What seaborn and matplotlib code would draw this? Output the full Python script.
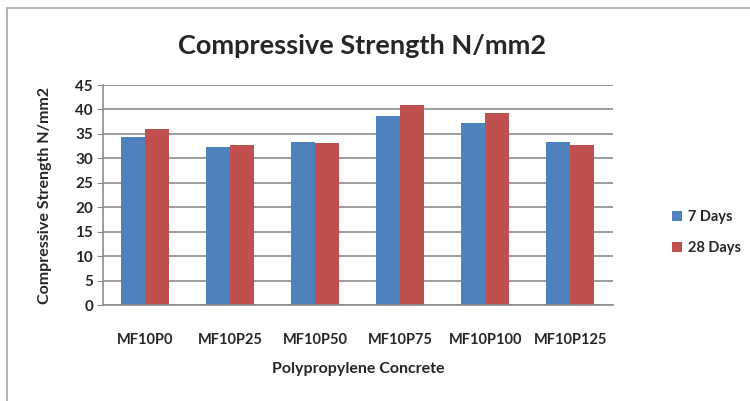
import pandas as pd
import matplotlib.pyplot as plt
import seaborn as sns
from matplotlib.patches import Rectangle

# values
mixes = ["MF10P0", "MF10P25", "MF10P50", "MF10P75", "MF10P100", "MF10P125"]
days_7 = [34.4, 32.4, 33.3, 38.6, 37.3, 33.3]
days_28 = [36.1, 32.8, 33.1, 40.9, 39.2, 32.8]
series = ["7 Days", "28 Days"]
y_ticks = list(range(0, 50, 5))

df = pd.DataFrame({
    "mix": mixes * 2,
    "strength": days_7 + days_28,
    "age": [series[0]] * len(mixes) + [series[1]] * len(mixes),
})

sns.set_style("white")
plt.rcParams["font.family"] = ["Lato", "DejaVu Sans"]

fig = plt.figure(figsize=(7.5, 4.01), dpi=100)
ax = fig.add_axes([0.137, 0.239, 0.68, 0.549])

sns.barplot(data=df, x="mix", y="strength", hue="age", order=mixes,
            hue_order=series, palette=["#4F81BD", "#C0504D"], width=0.57,
            gap=0, saturation=1, edgecolor="none", ax=ax, legend=True)

ax.set_ylim(0, 45)
ax.set_yticks(y_ticks)
ax.set_yticklabels([str(t) for t in y_ticks], fontsize=11, fontweight="bold")
ax.set_xticks(range(len(mixes)))
ax.set_xticklabels(mixes, fontsize=10.5, fontweight="bold")
ax.tick_params(axis="x", length=0, pad=20)
ax.tick_params(axis="y", length=4, color="#888888", left=True, pad=3)
ax.yaxis.grid(True, color="#8c8c8c", linewidth=1.2)
ax.set_axisbelow(True)
for side in ["top", "right"]:
    ax.spines[side].set_visible(False)
for side in ["left", "bottom"]:
    ax.spines[side].set_color("#8c8c8c")
    ax.spines[side].set_linewidth(1.2)

ax.set_xlabel("Polypropylene Concrete", fontsize=11.5, fontweight="bold", labelpad=11)
ax.set_ylabel("Compressive Strength N/mm2", fontsize=11.5, fontweight="bold", labelpad=17)
fig.text(0.483, 0.885, "Compressive Strength N/mm2", ha="center", va="center",
         fontsize=19.5, fontweight="bold")

leg = ax.legend(loc="center left", bbox_to_anchor=(1.09, 0.33), frameon=False,
                fontsize=10.5, handlelength=0.7, handleheight=0.7,
                labelspacing=1.2, handletextpad=0.4)
for t in leg.get_texts():
    t.set_fontweight("bold")

# outer chart frame
fig.patches.append(Rectangle((0.009, -0.05), 1.2, 1.03, transform=fig.transFigure,
                             fill=False, edgecolor="#a6a6a6", linewidth=1.2))

fig.savefig("out.png", dpi=100)
